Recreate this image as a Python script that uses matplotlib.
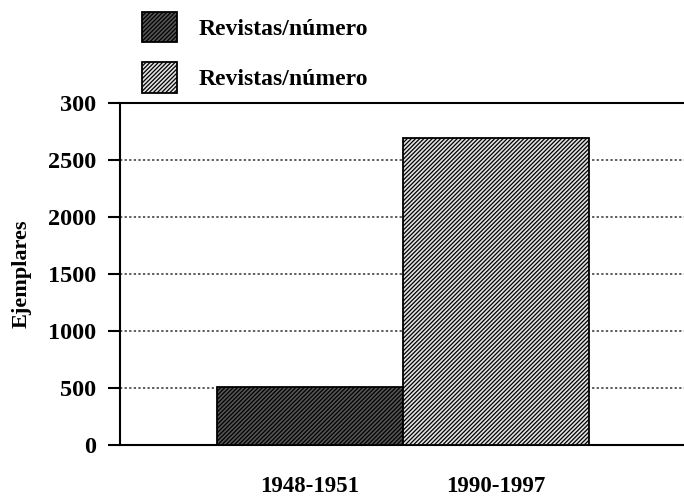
import matplotlib
matplotlib.use("Agg")
import matplotlib.pyplot as plt
from matplotlib.patches import Patch

categories = ["1948-1951", "1990-1997"]
values = [505, 2690]
legend_labels = ["Revistas/número", "Revistas/número"]
yticks = [0, 500, 1000, 1500, 2000, 2500, 3000]
ytick_labels = ["0", "500", "1000", "1500", "2000", "2500", "300"]

plt.rcParams['font.family'] = ['Liberation Serif', 'DejaVu Serif']
plt.rcParams['font.weight'] = 'bold'
plt.rcParams['hatch.linewidth'] = 0.9

fig = plt.figure(figsize=(6.84, 4.98), dpi=100)
ax = fig.add_axes([120/684, 1-445/498, 1-120/684, (445-103)/498])

faces = ['#555555', '#e2e2e2']
x = list(range(len(categories)))
for xi, v, fc in zip(x, values, faces):
    ax.bar(xi, v, width=1.0, color=fc, edgecolor='black', hatch='////////',
           linewidth=1.3, zorder=3)

ax.set_xlim(-1.02, 2.01)
ax.set_ylim(0, 3000)
ax.set_yticks(yticks)
ax.set_yticklabels(ytick_labels, fontsize=17.5, fontweight='bold')
ax.set_xticks(x)
ax.set_xticklabels(categories, fontsize=16.5, fontweight='bold')
ax.tick_params(axis='x', length=0, pad=22)
ax.tick_params(axis='y', direction='out', length=9, width=1.5, pad=8)

for gy in yticks[1:-1]:
    ax.axhline(gy, color='#333333', linestyle=(0, (1.5, 1.5)), linewidth=1.1, zorder=1)

ax.spines['right'].set_visible(False)
for s in ['left', 'top', 'bottom']:
    ax.spines[s].set_linewidth(1.5)

ax.set_ylabel("Ejemplares", fontsize=16, fontweight='bold', labelpad=12)

handles = [Patch(facecolor=fc, edgecolor='black', hatch='////////', linewidth=1.3) for fc in faces]
fig.legend(handles, legend_labels, loc='upper left',
           bbox_to_anchor=(130/684, 1.0), bbox_transform=fig.transFigure,
           frameon=False, borderpad=0,
           handlelength=1.5, handleheight=1.6, handletextpad=0.9,
           labelspacing=0.85, prop={'weight': 'bold', 'size': 17})

fig.savefig("out.png", dpi=100)
